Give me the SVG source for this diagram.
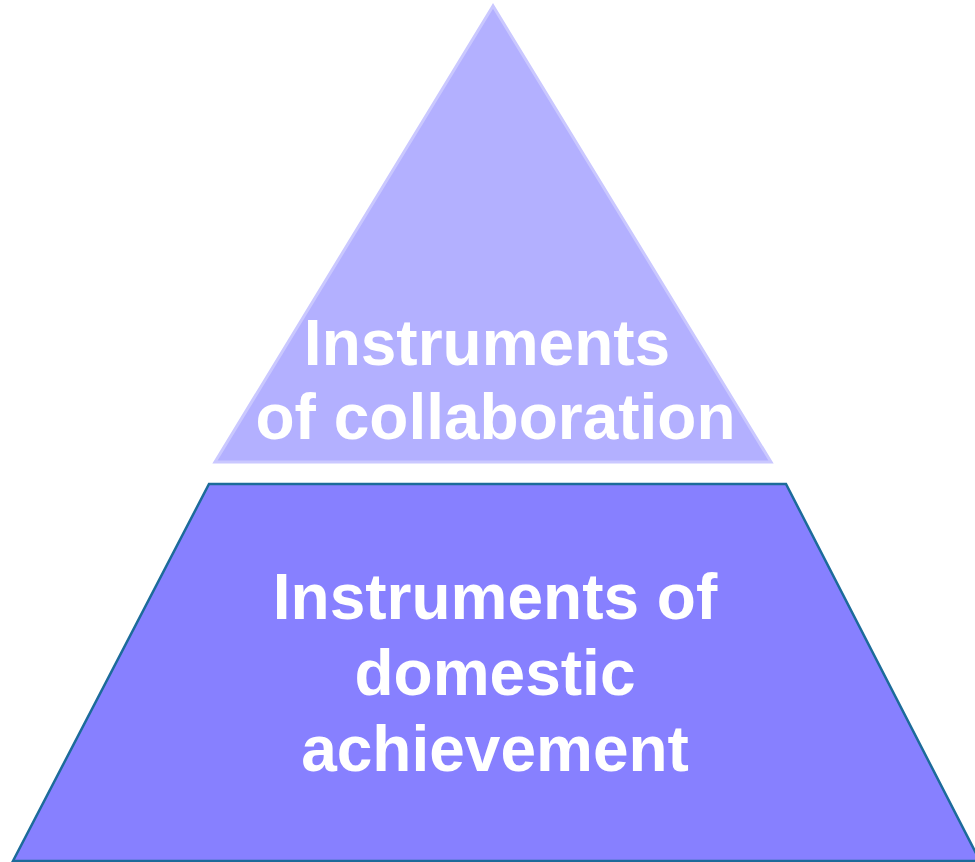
<svg xmlns="http://www.w3.org/2000/svg" width="975" height="862" viewBox="0 0 975 862">
<style>
.lbl{font-family:"Liberation Sans",Arial,sans-serif;font-weight:bold;font-size:64px;fill:#ffffff;text-anchor:middle}
</style>
<rect width="975" height="862" fill="#ffffff"/>
<g id="top">
<polygon points="493,6 215,462 771,462" fill="#b3b0ff" stroke="#cac8ff" stroke-width="3" stroke-linejoin="miter"/>
<text class="lbl" x="487" y="365">Instruments</text>
<text class="lbl" x="495.5" y="439">of collaboration</text>
</g>
<g id="bottom">
<polygon points="209,484 786,484 980,861 13,861" fill="#8780ff" stroke="#1c6b9a" stroke-width="2.5"/>
<text class="lbl" x="495" y="619">Instruments of</text>
<text class="lbl" x="495" y="695">domestic</text>
<text class="lbl" x="495" y="771">achievement</text>
</g>
<g id="connectors"/>
</svg>
